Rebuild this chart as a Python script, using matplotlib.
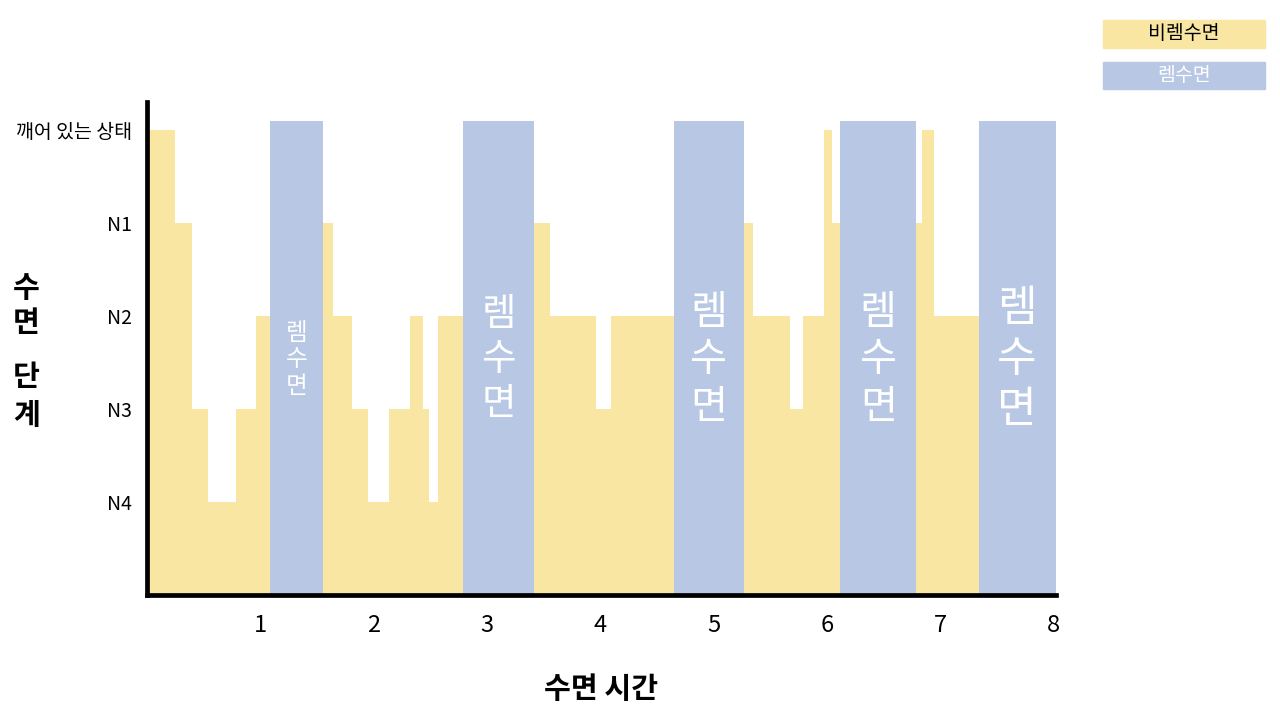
import matplotlib
matplotlib.use('Agg')
import matplotlib.pyplot as plt
from matplotlib.patches import Rectangle
import numpy as np

plt.rcParams['font.family'] = ['Noto Sans CJK KR', 'DejaVu Sans']

# hypnogram: segment edges in hours and the stage in each segment
edges = [0, 0.25, 0.40, 0.54, 0.79, 0.96, 1.09, 1.55, 1.64, 1.81, 1.95, 2.14,
         2.32, 2.44, 2.49, 2.57, 2.79, 3.42, 3.56, 3.96, 4.10, 4.65, 5.27, 5.35,
         5.68, 5.79, 5.98, 6.05, 6.12, 6.79, 6.84, 6.95, 7.34, 8.02]
stages = ['W', 'N1', 'N3', 'N4', 'N3', 'N2', 'REM', 'N1', 'N2', 'N3', 'N4', 'N3',
          'N2', 'N3', 'N4', 'N2', 'REM', 'N1', 'N2', 'N3', 'N2', 'REM', 'N1', 'N2',
          'N3', 'N2', 'W', 'N1', 'REM', 'N1', 'W', 'N2', 'REM']
stage_level = {'N4': 1, 'N3': 2, 'N2': 3, 'N1': 4, 'W': 5}
rem_height = 5.1

ytick_vals = [1, 2, 3, 4, 5]
ytick_labels = ['N4', 'N3', 'N2', 'N1', '깨어 있는 상태']
xtick_vals = [1, 2, 3, 4, 5, 6, 7, 8]

YELLOW = '#F9E6A2'
BLUE = '#B7C7E4'

nrem_vals = np.array([stage_level.get(s, 0) for s in stages], dtype=float)
rem_idx = [i for i, s in enumerate(stages) if s == 'REM']
rem_start = np.array([edges[i] for i in rem_idx])
rem_width = np.array([edges[i + 1] - edges[i] for i in rem_idx])
rem_label_size = [17, 27, 29, 29, 31]

fig = plt.figure(figsize=(12.8, 7.17), dpi=100)
ax = fig.add_axes([0.1148, 0.1702, 0.7099, 0.6875])

ax.stairs(nrem_vals, edges, fill=True, color=YELLOW, baseline=0, linewidth=0)
ax.bar(rem_start, [rem_height] * len(rem_idx), width=rem_width, align='edge',
       color=BLUE, linewidth=0)

for x, w, fs in zip(rem_start, rem_width, rem_label_size):
    ax.text(x + w / 2, 2.53, '렘\n수\n면', ha='center', va='center',
            color='white', fontsize=fs, linespacing=1.2)

ax.set_xlim(0, 8.02)
ax.set_ylim(0, 5.3)
ax.set_xticks(xtick_vals)
ax.set_xticklabels([str(v) for v in xtick_vals], fontsize=17)
ax.set_yticks(ytick_vals)
ax.set_yticklabels(ytick_labels, fontsize=14)
ax.tick_params(axis='both', length=0)
ax.tick_params(axis='x', pad=14)
ax.tick_params(axis='y', pad=11)

for side in ['top', 'right']:
    ax.spines[side].set_visible(False)
for side in ['left', 'bottom']:
    ax.spines[side].set_linewidth(3.4)
    ax.spines[side].set_color('black')
    ax.spines[side].set_capstyle('projecting')

ax.set_xlabel('수면 시간', fontsize=21, fontweight='bold', labelpad=26)

# vertical y label, one character per line
for ch, yy in zip(['수', '면', '단', '계'], [0.598, 0.5495, 0.474, 0.421]):
    fig.text(0.0205, yy, ch, ha='center', va='center', fontsize=21,
             fontweight='bold')

# legend boxes top right
fig.patches.append(Rectangle((0.8617, 0.9331), 0.1266, 0.039,
                             transform=fig.transFigure, color=YELLOW, zorder=0))
fig.patches.append(Rectangle((0.8617, 0.8759), 0.1266, 0.0377,
                             transform=fig.transFigure, color=BLUE, zorder=0))
fig.text(0.8617 + 0.0633, 0.9331 + 0.0195, '비렘수면', ha='center', va='center',
         fontsize=14, color='black')
fig.text(0.8617 + 0.0633, 0.8759 + 0.0188, '렘수면', ha='center', va='center',
         fontsize=14, color='white')

fig.savefig('out.png', dpi=100)
